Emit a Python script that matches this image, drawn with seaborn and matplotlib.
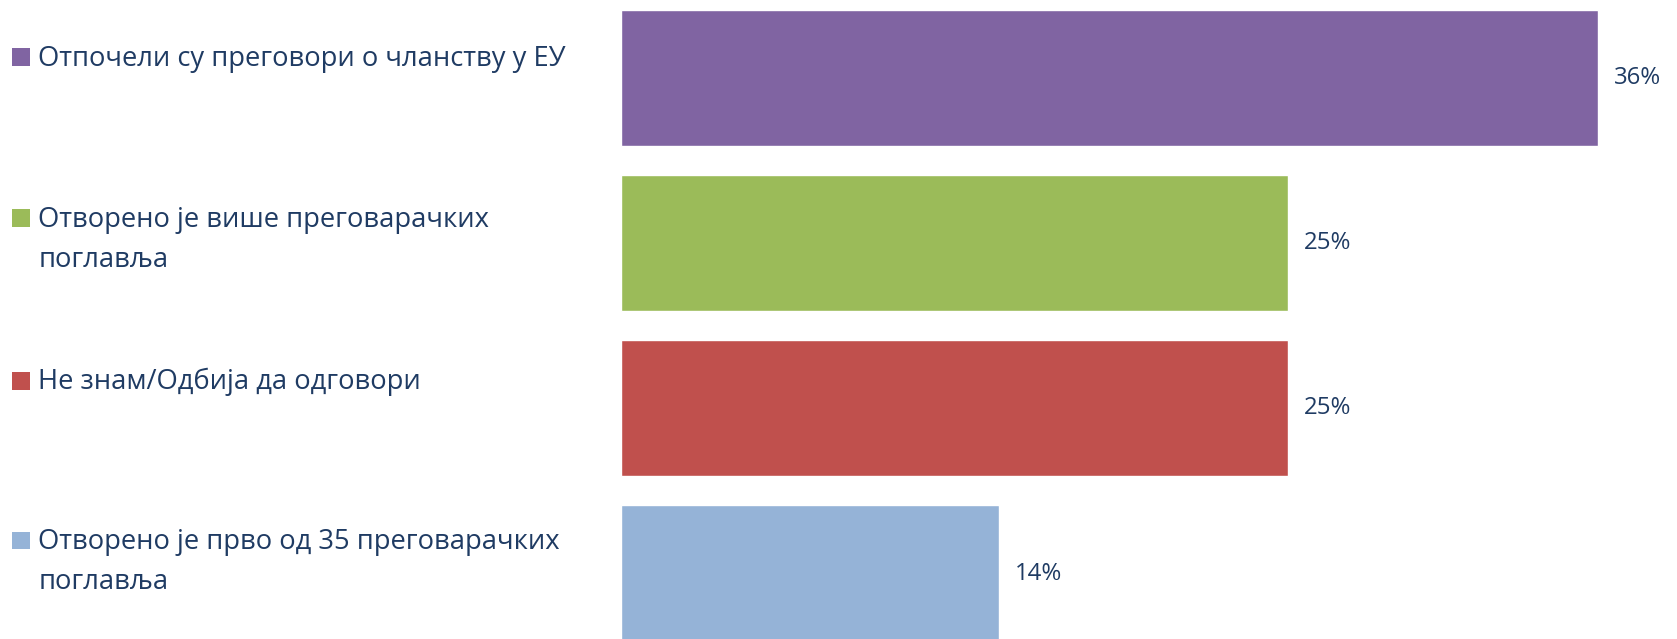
import matplotlib
matplotlib.use("Agg")
import matplotlib.pyplot as plt
from matplotlib.patches import Rectangle
import seaborn as sns
import pandas as pd

categories = [
    "Отпочели су преговори о чланству у ЕУ",
    "Отворено је више преговарачких\nпоглавља",
    "Не знам/Одбија да одговори",
    "Отворено је прво од 35 преговарачких\nпоглавља",
]
values = [36.2, 24.7, 24.7, 14.0]
value_labels = ["36%", "25%", "25%", "14%"]
colors = ["#8064A2", "#9BBB59", "#C0504D", "#95B3D7"]

TEXT = "#1F3B63"
W, H = 1677, 639

sns.set_theme(style="white")
plt.rcParams["font.family"] = ["Open Sans", "DejaVu Sans"]

fig = plt.figure(figsize=(W / 100, H / 100), dpi=100)
ax = fig.add_axes([621 / W, 0, (W - 621) / W, 1])

df = pd.DataFrame({"cat": categories, "val": values})
sns.barplot(data=df, x="val", y="cat", hue="cat", palette=colors, orient="h",
            width=0.825, legend=False, ax=ax, saturation=1)

ax.set_xlim(0, (W - 621) / 27.0)
ax.set_ylim(3.396, -0.47)
ax.axis("off")

for i, (v, lab) in enumerate(zip(values, value_labels)):
    ax.annotate(lab, xy=(v, i), xytext=(11.5, 0), textcoords="offset points",
                ha="left", va="center", fontsize=17.3, color=TEXT)

# legend on the left (baselines in pixels)
legend_base = [65.7, 226.7, 389.5, 549.3]
line_gap = 40
for cat, col, yb in zip(categories, colors, legend_base):
    fig.patches.append(Rectangle((12.3 / W, 1 - yb / H), 17.5 / W, 17.3 / H,
                                 transform=fig.transFigure, facecolor=col,
                                 edgecolor="none"))
    for j, line in enumerate(cat.split("\n")):
        fig.text(38.3 / W, 1 - (yb + j * line_gap) / H, line, ha="left",
                 va="baseline", fontsize=19.7, color=TEXT)

fig.savefig("out.png", dpi=100)
